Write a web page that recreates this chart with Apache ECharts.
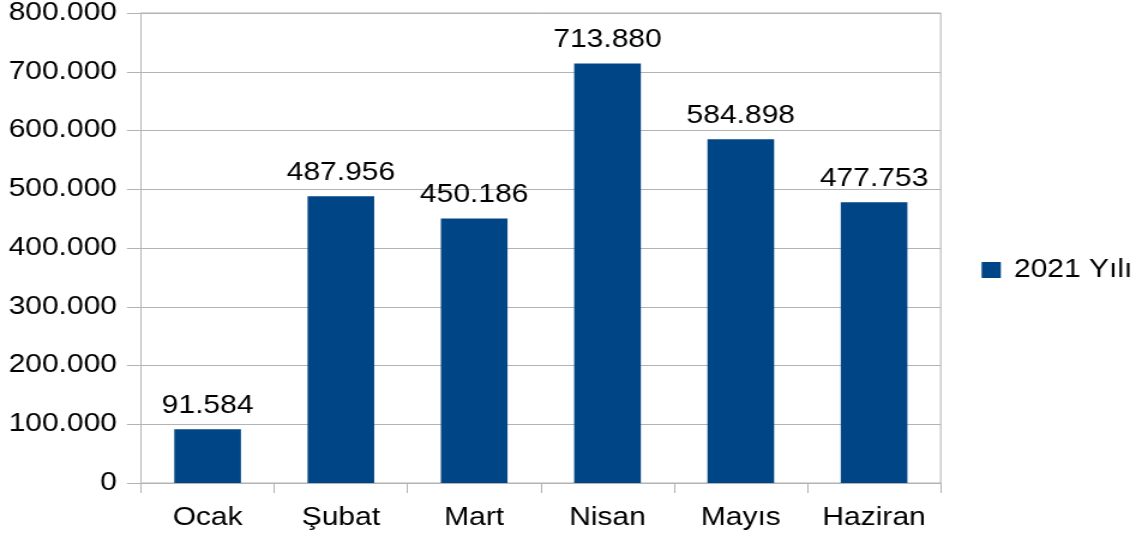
<!DOCTYPE html>
<html>
<head>
<meta charset="utf-8">
<script src="https://cdn.jsdelivr.net/npm/echarts@6/dist/echarts.min.js"></script>
<style>
html,body{margin:0;padding:0;background:#fff;overflow:hidden;}
#wrap{width:1142px;height:535px;overflow:hidden;}
#c{width:952px;height:535px;transform:scaleX(1.19958);transform-origin:0 0;}
</style>
</head>
<body>
<div id="wrap"><div id="c"></div></div>
<script>
const categories = ['Ocak', 'Şubat', 'Mart', 'Nisan', 'Mayıs', 'Haziran'];
const values2021 = [91584, 487956, 450186, 713880, 584898, 477753];
const seriesName = '2021 Yılı';
const yTicks = { min: 0, max: 800000, interval: 100000 };

function fmt(v) {
  return String(Math.round(v)).replace(/\B(?=(\d{3})+(?!\d))/g, '.');
}

const chart = echarts.init(document.getElementById('c'), null, { renderer: 'canvas' });
const font = 'Liberation Sans';
const fs = 25;
chart.setOption({
  animation: false,
  backgroundColor: '#fff',
  textStyle: { fontFamily: font },
  grid: {
    left: 117.5, right: 167.8, top: 13, bottom: 52,
    show: true, borderColor: '#b3b3b3', borderWidth: 1, backgroundColor: 'transparent'
  },
  legend: {
    show: true,
    left: 813.3, top: 252.5,
    orient: 'vertical',
    icon: 'rect',
    itemWidth: 16, itemHeight: 16,
    textStyle: { fontFamily: font, fontSize: fs, color: '#000', padding: [0, 0, 0, 6] },
    data: [seriesName]
  },
  xAxis: {
    type: 'category',
    data: categories,
    axisLine: { show: true, lineStyle: { color: '#b3b3b3', width: 1 } },
    axisTick: { show: true, interval: 0, length: 10, lineStyle: { color: '#b3b3b3' } },
    axisLabel: { interval: 0, fontFamily: font, fontSize: fs, color: '#000', margin: 23, hideOverlap: false },
    splitLine: { show: false }
  },
  yAxis: {
    type: 'value',
    min: yTicks.min, max: yTicks.max, interval: yTicks.interval,
    axisLine: { show: true, lineStyle: { color: '#b3b3b3', width: 1 } },
    axisTick: { show: true, length: 11.7, lineStyle: { color: '#b3b3b3' } },
    axisLabel: { fontFamily: font, fontSize: fs, color: '#000', margin: 20, formatter: fmt },
    splitLine: { show: true, lineStyle: { color: '#b3b3b3', width: 1 } }
  },
  series: [{
    name: seriesName,
    type: 'bar',
    data: values2021,
    barWidth: '50%',
    itemStyle: { color: '#004586' },
    label: {
      show: true, position: 'top', distance: 11,
      fontFamily: font, fontSize: fs, color: '#000',
      formatter: p => fmt(p.value)
    }
  }]
});
</script>
</body>
</html>
